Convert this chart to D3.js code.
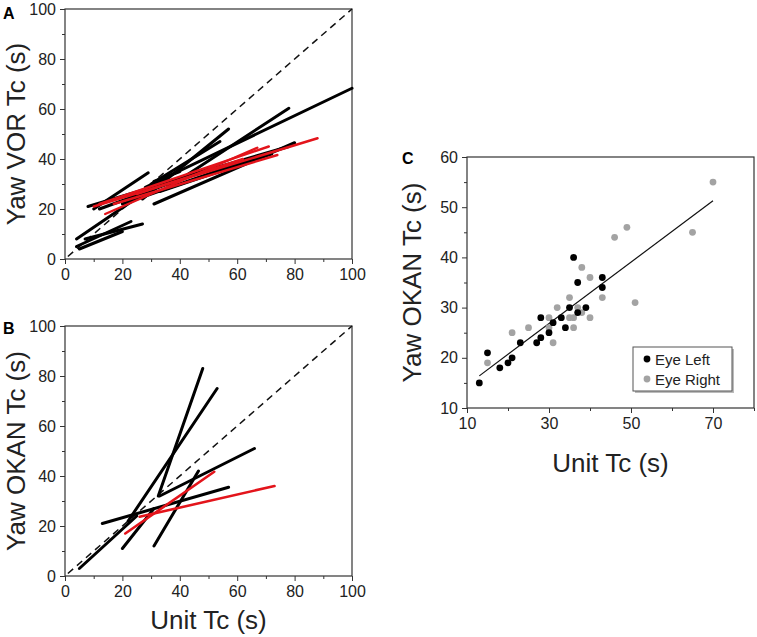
<!DOCTYPE html>
<html>
<head>
<meta charset="utf-8">
<script src="https://cdn.jsdelivr.net/npm/d3@7"></script>
<style>
  body { margin: 0; background: #fff; }
  svg text { font-family: "Liberation Sans", Arial, sans-serif; }
</style>
</head>
<body>
<svg id="chart" width="757" height="637"></svg>
<script>
// Panel A: yaw VOR Tc vs unit Tc, one segment per unit [x1, y1, x2, y2]
const vorBlack = [
    [4, 8, 36, 33],
    [10, 20, 29, 34.5],
    [8, 21, 40, 32],
    [4, 5, 23, 15],
    [7, 8, 27, 14],
    [5, 4, 20, 11],
    [28, 28.7, 100, 68.3],
    [35, 28, 78, 60.3],
    [27, 24, 57, 52],
    [30, 30, 54, 47],
    [31, 22, 80, 46.5],
    [30, 29, 78, 45],
    [33, 27, 72, 42],
    [12, 20, 50, 36],
    [20, 22, 65, 40],
    [31, 31, 40, 35]
];
const vorRed = [
    [10, 21, 88, 48.3],
    [14, 18, 67, 44.5],
    [12, 22, 71, 45],
    [17, 22, 74, 41.6],
    [25, 26, 62, 40]
];

// Panel B: yaw OKAN Tc vs unit Tc
const okanBlack = [
    [5, 3, 25, 24],
    [22, 22, 53, 75],
    [32.5, 32, 48, 83],
    [33, 32, 66, 51],
    [13, 21, 57, 35.5],
    [20, 11, 31, 27],
    [31, 12, 46.5, 42]
];
const okanRed = [
    [21, 17, 52, 41.7],
    [26, 23.7, 73, 36]
];

// Panel C: OKAN Tc per eye
const eyeLeft = [
    [13, 15], [15, 21], [18, 18], [20, 19], [21, 20], [23, 23], [27, 23],
    [28, 24], [28, 28], [30, 25], [31, 27], [33, 28], [34, 26], [35, 30],
    [36, 40], [37, 35], [37, 29], [39, 30], [43, 36], [43, 34]
];
const eyeRight = [
    [15, 19], [21, 25], [25, 26], [30, 28], [30, 26], [31, 23], [32, 30],
    [35, 32], [35, 28], [36, 28], [36, 26], [37, 30], [38, 29], [38, 38],
    [40, 36], [40, 28], [43, 32], [46, 44], [49, 46], [51, 31], [65, 45],
    [70, 55]
];
const fitLine = [[13, 16.4], [70, 51.3]];

const abTicks = [0, 20, 40, 60, 80, 100];
const abMinor = [10, 30, 50, 70, 90];
const cxTicks = [10, 30, 50, 70];
const cxMinor = [20, 40, 60, 80];
const cyTicks = [10, 20, 30, 40, 50, 60];
const cyMinor = [15, 25, 35, 45, 55];

const svg = d3.select("#chart");

function panel(opt) {
    const g = svg.append("g");
    const x = opt.x, y = opt.y;
    const [x0, x1] = x.range();
    const [y0, y1] = y.range();

    // minor ticks first
    g.append("g")
        .attr("transform", `translate(0,${y0})`)
        .call(d3.axisBottom(x).tickValues(opt.xMinor).tickSize(3).tickFormat(""));
    g.append("g")
        .attr("transform", `translate(${x0},0)`)
        .call(d3.axisLeft(y).tickValues(opt.yMinor).tickSize(3).tickFormat(""));

    g.append("g")
        .attr("transform", `translate(0,${y0})`)
        .call(d3.axisBottom(x).tickValues(opt.xTicks).tickSize(5).tickPadding(5));
    g.append("g")
        .attr("transform", `translate(${x0},0)`)
        .call(d3.axisLeft(y).tickValues(opt.yTicks).tickSize(5).tickPadding(4));

    g.selectAll(".domain").remove();
    g.selectAll(".tick line").attr("stroke", "#333");
    g.selectAll(".tick text")
        .attr("fill", "#222")
        .style("font-size", opt.tickFont + "px");

    g.append("rect")
        .attr("x", x0).attr("y", y1)
        .attr("width", x1 - x0).attr("height", y0 - y1)
        .attr("fill", "none")
        .attr("stroke", "#333")
        .attr("stroke-width", 1.2);

    // panel letter
    g.append("text")
        .attr("x", opt.letterX).attr("y", opt.letterY)
        .style("font-size", "16px").style("font-weight", "bold")
        .text(opt.letter);

    // y title
    g.append("text")
        .attr("transform", `translate(${opt.yTitleX},${(y0 + y1) / 2}) rotate(-90)`)
        .attr("text-anchor", "middle")
        .style("font-size", "26px")
        .attr("fill", "#222")
        .text(opt.yTitle);

    if (opt.xTitle) {
        g.append("text")
            .attr("x", (x0 + x1) / 2).attr("y", opt.xTitleY)
            .attr("text-anchor", "middle")
            .style("font-size", "26px")
            .attr("fill", "#222")
            .text(opt.xTitle);
    }
    return g;
}

function segments(g, x, y, data, color, width) {
    g.append("g")
        .selectAll("line")
        .data(data)
        .join("line")
        .attr("x1", d => x(d[0])).attr("y1", d => y(d[1]))
        .attr("x2", d => x(d[2])).attr("y2", d => y(d[3]))
        .attr("stroke", color)
        .attr("stroke-width", width)
        .attr("stroke-linecap", "round");
}

function unity(g, x, y) {
    g.append("line")
        .attr("x1", x(1)).attr("y1", y(1))
        .attr("x2", x(100)).attr("y2", y(100))
        .attr("stroke", "#111")
        .attr("stroke-width", 1.5)
        .attr("stroke-dasharray", "7,5");
}

// ---- A ----
const xA = d3.scaleLinear([0, 100], [65, 352]);
const yA = d3.scaleLinear([0, 100], [259, 9]);
const gA = panel({
    x: xA, y: yA, xTicks: abTicks, xMinor: abMinor, yTicks: abTicks, yMinor: abMinor,
    tickFont: 16, letter: "A", letterX: 3, letterY: 19,
    yTitle: "Yaw VOR Tc (s)", yTitleX: 25
});
unity(gA, xA, yA);
segments(gA, xA, yA, vorBlack, "#000", 3);
segments(gA, xA, yA, vorRed, "#e3141b", 2.4);

// ---- B ----
const xB = d3.scaleLinear([0, 100], [65, 352]);
const yB = d3.scaleLinear([0, 100], [576, 326]);
const gB = panel({
    x: xB, y: yB, xTicks: abTicks, xMinor: abMinor, yTicks: abTicks, yMinor: abMinor,
    tickFont: 16, letter: "B", letterX: 3, letterY: 334,
    yTitle: "Yaw OKAN Tc (s)", yTitleX: 25,
    xTitle: "Unit Tc (s)", xTitleY: 629
});
unity(gB, xB, yB);
segments(gB, xB, yB, okanBlack, "#000", 3);
segments(gB, xB, yB, okanRed, "#e3141b", 2.6);

// ---- C ----
const xC = d3.scaleLinear([10, 80], [467, 754]);
const yC = d3.scaleLinear([10, 60], [408, 157]);
const gC = panel({
    x: xC, y: yC, xTicks: cxTicks, xMinor: cxMinor, yTicks: cyTicks, yMinor: cyMinor,
    tickFont: 16, letter: "C", letterX: 402, letterY: 164,
    yTitle: "Yaw OKAN Tc (s)", yTitleX: 421,
    xTitle: "Unit Tc (s)", xTitleY: 472
});

gC.append("line")
    .attr("x1", xC(fitLine[0][0])).attr("y1", yC(fitLine[0][1]))
    .attr("x2", xC(fitLine[1][0])).attr("y2", yC(fitLine[1][1]))
    .attr("stroke", "#111").attr("stroke-width", 1.2);

gC.append("g").selectAll("circle")
    .data(eyeRight).join("circle")
    .attr("cx", d => xC(d[0])).attr("cy", d => yC(d[1]))
    .attr("r", 3.4).attr("fill", "#a3a3a3");
gC.append("g").selectAll("circle")
    .data(eyeLeft).join("circle")
    .attr("cx", d => xC(d[0])).attr("cy", d => yC(d[1]))
    .attr("r", 3.4).attr("fill", "#000");

// legend
const leg = gC.append("g").attr("transform", "translate(633,347)");
leg.append("rect")
    .attr("x", 2).attr("y", 2).attr("width", 99).attr("height", 44)
    .attr("fill", "#bbb");
leg.append("rect")
    .attr("width", 99).attr("height", 44)
    .attr("fill", "#fff").attr("stroke", "#555").attr("stroke-width", 1);
const legItems = [["Eye Left", "#000"], ["Eye Right", "#a3a3a3"]];
legItems.forEach((d, i) => {
    leg.append("circle").attr("cx", 14).attr("cy", 12 + i * 20).attr("r", 3.4).attr("fill", d[1]);
    leg.append("text")
        .attr("x", 22).attr("y", 17.5 + i * 20)
        .style("font-size", "15px").attr("fill", "#222")
        .text(d[0]);
});
</script>
</body>
</html>
